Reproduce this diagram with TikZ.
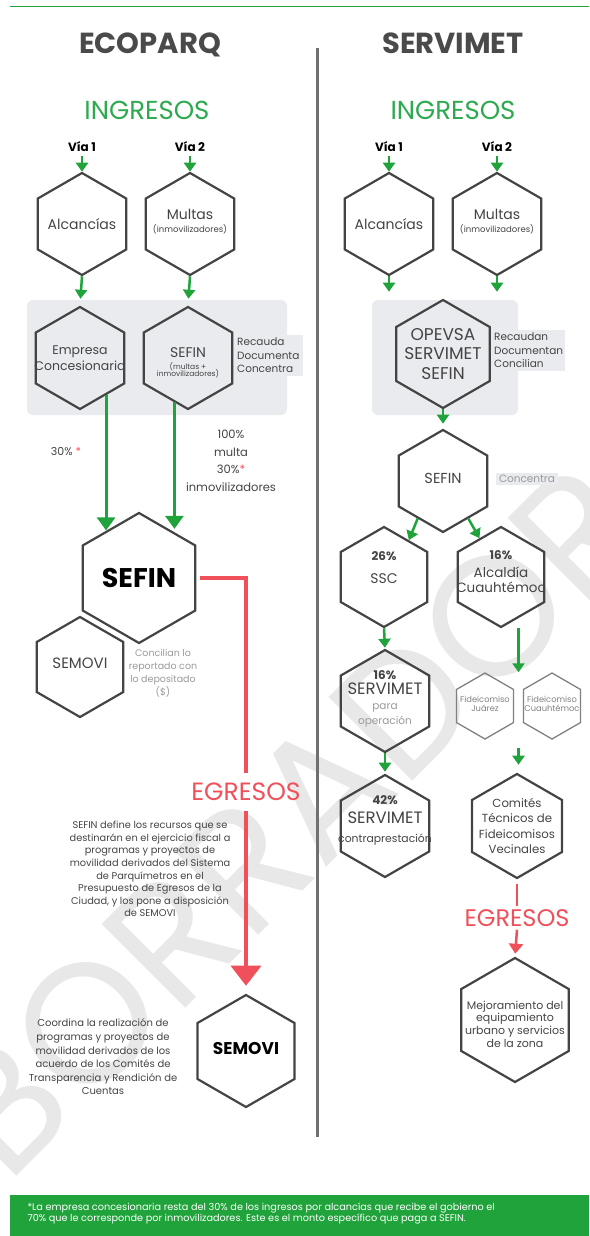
\documentclass[tikz,border=0pt]{standalone}
\usepackage{fontspec}
\setmainfont{Poppins}
\usetikzlibrary{shapes.geometric,arrows.meta,calc}
\definecolor{hexgray}{HTML}{444444}
\definecolor{titlegray}{HTML}{4A4A4A}
\definecolor{ingreen}{HTML}{2DAA4F}
\definecolor{arrgreen}{HTML}{1FA33A}
\definecolor{egred}{HTML}{F0505A}
\definecolor{boxgray}{HTML}{E9EBEE}
\definecolor{sepgray}{HTML}{707070}
\definecolor{notegray}{HTML}{9A9A9A}
\definecolor{wmgray}{HTML}{E8E8E8}
\newcommand{\fsz}[2]{\fontsize{#1}{#2}\selectfont}

\begin{document}
\begin{tikzpicture}[x=1pt,y=-1pt,
  hex/.style={regular polygon,regular polygon sides=6,shape border rotate=30,draw=hexgray,line width=2.2pt,inner sep=0pt,minimum size=#1},
  hex/.default=102pt,
  smallhex/.style={hex=#1,draw=gray,line width=1.3pt},
  htxt/.style={align=center,text=hexgray,font=\fsz{14}{17}},
  note/.style={align=center,text=hexgray,font=\fsz{9.8}{12.6}},
  sidebox/.style={fill=boxgray,text=hexgray,align=left,font=\fsz{10.5}{13.5},inner xsep=4pt,inner ysep=3pt},
  via/.style={font=\fsz{12}{14}\bfseries,text=black},
  ingr/.style={font=\fsz{26}{29},text=ingreen},
  egr/.style={font=\fsz{25}{28},text=egred,inner sep=3pt},
  garrow/.style={draw=arrgreen,line width=2.5pt,-{Triangle[width=12pt,length=9pt]}},
  gbig/.style={garrow,line width=3pt,-{Triangle[width=18pt,length=13pt]}},
  rline/.style={draw=egred,line width=3.5pt},
  rbig/.style={rline,-{Triangle[width=30pt,length=20pt]}},
  rarrow/.style={draw=egred,line width=2.5pt,-{Triangle[width=14pt,length=10pt]}}
]
\useasboundingbox (0,0) rectangle (589,1236);
% watermark
\node[rotate=45,text=wmgray,font=\fsz{170}{170}] (wm) at (290,820) {BORRADOR};

% header
\draw[arrgreen,line width=1pt] (10,7) -- (589,7);
\draw[sepgray,line width=3pt] (317,48) -- (317,1137);
\node[font=\fsz{29}{34}\bfseries,text=titlegray] (ecoT) at (150,45) {ECOPARQ};
\node[font=\fsz{29}{34}\bfseries,text=titlegray] (serT) at (453,43) {SERVIMET};
\node[ingr] (ingL) at (147,110) {INGRESOS};
\node[ingr] (ingR) at (453,110) {INGRESOS};

% ECOPARQ
\node[via] (via1L) at (82,147) {Vía 1};
\node[via] (via2L) at (190,147) {Vía 2};
\node[hex,label={[htxt]center:Alcancías}] (alcL) at (82,224) {};
\node[hex,label={[htxt,yshift=2pt]center:Multas\\[-4pt]{\fsz{8.5}{9}(inmovilizadores)}}] (multL) at (190,224) {};
\draw[garrow] (via1L.south) -- (alcL.north);
\draw[garrow] (via2L.south) -- (multL.north);

\fill[boxgray,rounded corners=6pt] (27,300) rectangle (287,415);
\node[sidebox,anchor=west] (recL) at (233,355.5) {Recauda\\Documenta\\Concentra};
\node[hex,label={[htxt,font=\fsz{12.5}{16}]center:Empresa\\Concesionaria}] (empL) at (80,358) {};
\node[hex,label={[htxt,yshift=-5pt]center:SEFIN\\[-5pt]{\fsz{7.5}{7}(multas +}\\[-10pt]{\fsz{7.5}{7}inmovilizadores)}}] (sefinL) at (188,358) {};
\draw[garrow,shorten >=7pt] (alcL.south) -- (empL.north);
\draw[garrow,shorten >=7pt] (multL.south) -- (sefinL.north);

\node[hex=130pt,label={[htxt,font=\fsz{27}{30}\bfseries,text=black]center:SEFIN}] (sefinB) at (139,578) {};
\draw[gbig,shorten >=4pt] (empL.-55) -- (empL.-55 |- sefinB.132);
\draw[gbig,shorten >=3pt] (sefinL.-107) -- (sefinL.-107 |- sefinB.53);
\node[font=\fsz{11}{13},text=hexgray] (pctL) at (66,452) {30\% {\color{egred}*}};
\node[align=center,font=\fsz{11.5}{17.5},text=hexgray] (pctR) at (231,461) {100\%\\multa\\30\%{\color{egred}*}\\inmovilizadores};

\node[hex=100pt,label={[htxt,font=\fsz{15}{18},yshift=4pt]center:SEMOVI}] (semoviS) at (80,667) {};
\node[align=center,text=notegray,font=\fsz{9.5}{13}] (concT) at (163,673) {Concilian lo\\reportado con\\lo depositado\\(\$)};

\node[egr] (egrL) at (246,792) {EGRESOS};
\draw[rline,shorten <=4pt,shorten >=7pt] (sefinB.east) -| (egrL.north);
\node[hex=112pt,label={[htxt,font=\fsz{17}{20}\bfseries,text=black,yshift=3pt]center:SEMOVI}] (semoviB) at (246,1051) {};
\draw[rbig,shorten <=7pt,shorten >=8pt] (egrL.south) -- (semoviB.north);
\node[note] (defT) at (150,869) {SEFIN define los recursos que se\\destinarán en el ejercicio fiscal a\\programas y proyectos de\\movilidad derivados del Sistema\\de Parquímetros en el\\Presupuesto de Egresos de la\\Ciudad, y los pone a disposición\\de SEMOVI};
\node[note,font=\fsz{10}{13.6}] (coorT) at (103,1057) {Coordina la realización de\\programas y proyectos de\\movilidad derivados de los\\acuerdo de los Comités de\\Transparencia y Rendición de\\Cuentas};

% SERVIMET
\node[via] (via1R) at (389,147) {Vía 1};
\node[via] (via2R) at (497,147) {Vía 2};
\node[hex,label={[htxt]center:Alcancías}] (alcR) at (389,224) {};
\node[hex,label={[htxt,yshift=2pt]center:Multas\\[-4pt]{\fsz{8.5}{9}(inmovilizadores)}}] (multR) at (497,224) {};
\draw[garrow] (via1R.south) -- (alcR.north);
\draw[garrow] (via2R.south) -- (multR.north);

\fill[boxgray,rounded corners=6pt] (372,300) rectangle (518,415);
\node[sidebox,anchor=west,inner xsep=2pt] (recR) at (492,350.5) {Recaudan\\Documentan\\Concilian};
\node[hex=108pt,label={[htxt,font=\fsz{17}{19.5}]center:OPEVSA\\SERVIMET\\SEFIN}] (opevsa) at (443,354) {};
\draw[garrow,shorten >=7pt] (alcR.south) -- (alcR.south |- opevsa.north);
\draw[garrow,shorten >=7pt] (multR.south) -- (multR.south |- opevsa.north);

\node[hex,label={[htxt,font=\fsz{14.5}{17},yshift=3pt]center:SEFIN}] (sefinR) at (443,481) {};
\draw[garrow,shorten >=5pt] (opevsa.south) -- (sefinR.north);
\node[sidebox,text=notegray,inner xsep=3pt,inner ysep=2pt] (concR) at (527,479) {Concentra};

\node[hex=100pt,label={[htxt,yshift=9pt]center:{\fsz{12}{14}\bfseries 26\%}\\[6pt]SSC}] (ssc) at (384,577) {};
\node[hex=100pt,label={[htxt,font=\fsz{13.5}{15},yshift=5pt]center:{\fsz{12}{14}\bfseries 16\%}\\[3pt]Alcaldía\\Cuauhtémoc}] (alcaldia) at (501,577) {};
\draw[garrow] (sefinR.-124) -- (ssc.56);
\draw[garrow] (sefinR.-56) -- (alcaldia.119);

\node[hex,label={[htxt,font=\fsz{16.5}{15},yshift=2pt]center:{\fsz{12}{14}\bfseries 16\%}\\SERVIMET\\{\fsz{10.5}{14}\color{notegray}para}\\{\fsz{10.5}{14}\color{notegray}operación}}] (servop) at (385,701) {};
\node[hex,label={[htxt,font=\fsz{16.5}{19},yshift=6pt]center:{\fsz{12}{14}\bfseries 42\%}\\SERVIMET\\{\fsz{10.8}{14}contraprestación}}] (servcon) at (385,826) {};
\draw[garrow,shorten >=1pt] (ssc.south) -- (servop.north);
\draw[garrow,shorten >=2pt] (servop.south) -- (servcon.north);

\node[smallhex=66pt,label={[htxt,text=gray,font=\fsz{8.3}{9},yshift=2pt]center:Fideicomiso\\Juárez}] (fidJ) at (485,706) {};
\node[smallhex=66pt,label={[htxt,text=gray,font=\fsz{8.3}{9},yshift=2pt]center:Fideicomiso\\Cuauhtémoc}] (fidC) at (552,706) {};
\coordinate (fidM) at ($(fidJ)!0.5!(fidC)$);
\node[hex=104pt,label={[htxt,font=\fsz{11.7}{15.3}]center:Comités\\Técnicos de\\Fideicomisos\\Vecinales}] (comites) at (517,826) {};
\draw[garrow] (fidM |- alcaldia.south) -- (fidM |- fidJ.north);
\draw[garrow,shorten <=8pt,shorten >=8pt] (fidM |- fidJ.south) -- (fidM |- comites.north);

\node[egr,font=\fsz{24}{27}] (egrR) at (517,918) {EGRESOS};
\node[hex=124pt,label={[htxt,font=\fsz{11}{12.7},yshift=-4pt]center:Mejoramiento del\\equipamiento\\urbano y servicios\\de la zona}] (mejora) at (515,1020) {};
\draw[rline,line width=2.5pt,shorten <=5pt] (comites.south) -- (egrR.north);
\draw[rarrow,shorten >=3pt] (egrR.south) -- (mejora.north);

% footer
\fill[arrgreen] (10,1195) rectangle (589,1236);
\node[anchor=west,align=left,text=white,font=\fsz{9.7}{11}] (footT) at (24,1214) {*La empresa concesionaria resta del 30\% de los ingresos por alcancías que recibe el gobierno el\\70\% que le corresponde por inmovilizadores. Este es el monto específico que paga a SEFIN.};
\end{tikzpicture}
\end{document}
